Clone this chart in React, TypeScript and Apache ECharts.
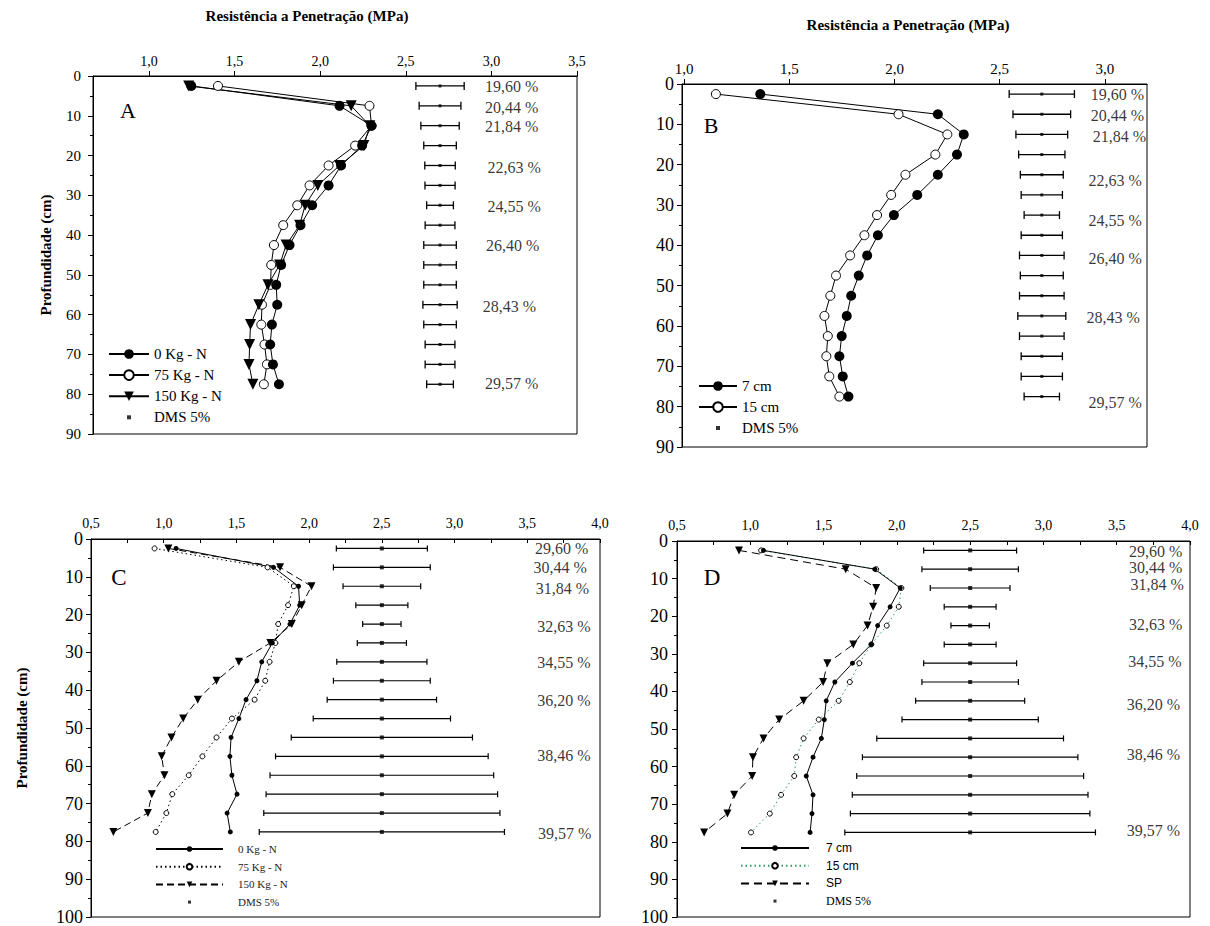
import { useEffect, useRef } from "react";
import * as echarts from "echarts";

const depths = [2.5, 7.5, 12.5, 17.5, 22.5, 27.5, 32.5, 37.5, 42.5, 47.5, 52.5, 57.5, 62.5, 67.5, 72.5, 77.5];
const ticksA = [1.0, 1.5, 2.0, 2.5, 3.0, 3.5];
const ticksB = [1.0, 1.5, 2.0, 2.5, 3.0];

// Panel A
const a0Kg = [1.247, 2.113, 2.3, 2.245, 2.122, 2.049, 1.953, 1.885, 1.821, 1.772, 1.743, 1.749, 1.718, 1.708, 1.724, 1.759];
const a75Kg = [1.403, 2.288, 2.3, 2.204, 2.049, 1.938, 1.866, 1.784, 1.73, 1.714, 1.71, 1.66, 1.656, 1.675, 1.689, 1.671];
const a150Kg = [1.232, 2.181, 2.29, 2.255, 2.113, 1.986, 1.912, 1.88, 1.801, 1.763, 1.695, 1.642, 1.593, 1.588, 1.584, 1.607];
const aDmsCenter = 2.7;
const aDmsHalf = [0.141, 0.122, 0.112, 0.095, 0.089, 0.088, 0.078, 0.087, 0.095, 0.095, 0.095, 0.1, 0.095, 0.087, 0.087, 0.078];
const abPctText = ["19,60 %", "20,44 %", "21,84 %", "22,63 %", "24,55 %", "26,40 %", "28,43 %", "29,57 %"];
const aPctX = [2.96, 2.96, 2.96, 2.975, 2.975, 2.965, 2.946, 2.96];
const aPctDepth = [2.6, 8.0, 12.7, 23.1, 32.7, 42.6, 58.0, 77.4];

// Panel B
const b7cm = [1.362, 2.206, 2.329, 2.297, 2.206, 2.108, 1.997, 1.921, 1.87, 1.83, 1.794, 1.773, 1.749, 1.738, 1.754, 1.781];
const b15cm = [1.151, 2.019, 2.251, 2.194, 2.052, 1.984, 1.917, 1.857, 1.789, 1.722, 1.695, 1.667, 1.683, 1.676, 1.69, 1.738];
const bDmsCenter = 2.7;
const bDmsHalf = [0.155, 0.137, 0.123, 0.11, 0.102, 0.098, 0.084, 0.098, 0.106, 0.102, 0.106, 0.114, 0.106, 0.098, 0.098, 0.084];
const bPctX = [2.93, 2.93, 2.94, 2.92, 2.92, 2.92, 2.91, 2.92];
const bPctDepth = [2.6, 7.9, 13.1, 24.0, 33.9, 43.3, 58.0, 78.9];

// Panel C
const c0Kg = [1.085, 1.755, 1.927, 1.935, 1.868, 1.747, 1.674, 1.641, 1.566, 1.517, 1.463, 1.455, 1.469, 1.504, 1.436, 1.458];
const c75Kg = [0.937, 1.714, 1.895, 1.855, 1.787, 1.768, 1.728, 1.698, 1.625, 1.469, 1.363, 1.266, 1.172, 1.059, 1.018, 0.945];
const c150Kg = [1.032, 1.8, 2.016, 1.949, 1.881, 1.733, 1.517, 1.363, 1.234, 1.134, 1.053, 0.986, 1.005, 0.918, 0.891, 0.654];
const cDmsCenter = 2.5;
const cDmsHalf = [0.313, 0.333, 0.267, 0.179, 0.132, 0.169, 0.31, 0.333, 0.376, 0.472, 0.623, 0.731, 0.769, 0.796, 0.812, 0.843];
const cdPctText = ["29,60 %", "30,44 %", "31,84 %", "32,63 %", "34,55 %", "36,20 %", "38,46 %", "39,57 %"];
const cPctX = [3.55, 3.54, 3.555, 3.565, 3.565, 3.565, 3.565, 3.57];
const cPctDepth = [2.5, 7.5, 13.0, 23.2, 32.8, 42.7, 57.3, 78.0];

// Panel D
const d7cm = [1.09, 1.85, 2.023, 1.954, 1.869, 1.826, 1.697, 1.577, 1.518, 1.505, 1.485, 1.428, 1.382, 1.428, 1.421, 1.408];
const d15cm = [1.074, 1.859, 2.031, 2.013, 1.931, 1.826, 1.744, 1.679, 1.603, 1.467, 1.364, 1.313, 1.3, 1.21, 1.133, 1.005];
const dSP = [0.923, 1.651, 1.859, 1.838, 1.8, 1.703, 1.526, 1.497, 1.364, 1.197, 1.09, 1.018, 1.013, 0.89, 0.844, 0.685];
const dDmsCenter = 2.5;
const dDmsHalf = [0.317, 0.329, 0.272, 0.177, 0.131, 0.177, 0.317, 0.329, 0.372, 0.465, 0.637, 0.735, 0.774, 0.804, 0.817, 0.855];
const dPctX = [3.58, 3.58, 3.59, 3.58, 3.575, 3.565, 3.565, 3.565];
const dPctDepth = [2.8, 7.1, 11.7, 22.2, 32.0, 43.6, 56.9, 76.9];

const SERIF = "Liberation Serif";
const SANS = "Liberation Sans";
const fmt1 = (v: number) => v.toFixed(1).replace(".", ",");
const stripTag = (n: string) => n.replace(/ \[[A-D]\]$/, "");

const pts = (vals: number[]) => vals.map((v, i) => [v, depths[i]]);

const filled = (s: number) => ({ symbol: "circle", symbolSize: s, itemStyle: { color: "#000" } });
const open = (s: number) => ({ symbol: "circle", symbolSize: s, itemStyle: { color: "#fff", borderColor: "#000", borderWidth: 1 } });
const tri = (s: number) => ({ symbol: "triangle", symbolRotate: 180, symbolSize: s, itemStyle: { color: "#000" } });

function lineS(name: string, vals: number[], idx: number, marker: any, lineStyle: any) {
  return {
    type: "line",
    name,
    xAxisIndex: idx,
    yAxisIndex: idx,
    data: pts(vals),
    showAllSymbol: true,
    ...marker,
    lineStyle: { color: "#000", width: 1, ...lineStyle },
    emphasis: { disabled: true },
    z: 3,
  };
}

function errS(center: number, halves: number[], idx: number, cap: number, lw: number) {
  return {
    type: "custom",
    xAxisIndex: idx,
    yAxisIndex: idx,
    silent: true,
    clip: false,
    z: 2,
    data: halves.map((h, i) => [center - h, center + h, depths[i]]),
    encode: { x: [0, 1], y: 2 },
    renderItem: (_p: any, api: any) => {
      const lo = api.coord([api.value(0), api.value(2)]);
      const hi = api.coord([api.value(1), api.value(2)]);
      const st = { stroke: "#000", lineWidth: lw };
      return {
        type: "group",
        children: [
          { type: "line", shape: { x1: lo[0], y1: lo[1], x2: hi[0], y2: hi[1] }, style: st },
          { type: "line", shape: { x1: lo[0], y1: lo[1] - cap, x2: lo[0], y2: lo[1] + cap }, style: st },
          { type: "line", shape: { x1: hi[0], y1: hi[1] - cap, x2: hi[0], y2: hi[1] + cap }, style: st },
        ],
      };
    },
  };
}

function dmsS(name: string, center: number, idx: number, size: number) {
  return {
    type: "scatter",
    name,
    xAxisIndex: idx,
    yAxisIndex: idx,
    symbol: "rect",
    symbolSize: size,
    itemStyle: { color: "#000" },
    data: depths.map((d) => [center, d]),
    z: 3,
    silent: true,
  };
}

function pctS(texts: string[], xs: number[], ds: number[], idx: number, fontSize: number) {
  return {
    type: "scatter",
    xAxisIndex: idx,
    yAxisIndex: idx,
    symbolSize: 1,
    itemStyle: { color: "rgba(0,0,0,0)" },
    silent: true,
    data: texts.map((t, i) => ({ value: [xs[i], ds[i]], name: t })),
    label: {
      show: true,
      position: "right",
      distance: 0,
      formatter: "{b}",
      fontFamily: SERIF,
      fontSize,
      color: "#000",
    },
  };
}

const axisLineBlack = { show: true, onZero: false, lineStyle: { color: "#000", width: 1 } };

function xAxisCfg(idx: number, min: number, max: number, custom: number[] | null, labelMargin: number, fontSize: number) {
  const base: any = {
    gridIndex: idx,
    type: "value",
    position: "top",
    min,
    max,
    axisLine: axisLineBlack,
    splitLine: { show: false },
    axisLabel: { formatter: fmt1, margin: labelMargin, fontFamily: SERIF, fontSize, color: "#000" },
  };
  if (custom) {
    base.axisTick = { show: true, customValues: custom, length: 5, lineStyle: { color: "#000" } };
    base.axisLabel.customValues = custom;
  } else {
    base.interval = 0.5;
    base.axisTick = { show: true, inside: true, length: 4, lineStyle: { color: "#000" } };
    base.minorTick = { show: true, splitNumber: 2, length: 4, lineStyle: { color: "#000" } };
  }
  return base;
}

function yAxisCfg(idx: number, max: number, name: string, nameGap: number, fontSize: number, margin: number) {
  return {
    gridIndex: idx,
    type: "value",
    inverse: true,
    min: 0,
    max,
    interval: 10,
    name,
    nameLocation: "middle",
    nameGap,
    nameRotate: 90,
    nameTextStyle: { fontFamily: SERIF, fontWeight: "bold", fontSize: 15, color: "#000" },
    axisLine: axisLineBlack,
    axisTick: { show: true, length: 5, lineStyle: { color: "#000" } },
    minorTick: { show: true, splitNumber: 2, length: 3, lineStyle: { color: "#000" } },
    splitLine: { show: false },
    axisLabel: { margin, fontFamily: SERIF, fontSize, color: "#000" },
  };
}

const dmsIconBig = "path://M0,0M12,12M4,4h4v4h-4z";
const dmsIconSmall = "path://M0,0M7,7M2,2h3v3h-3z";

export default function App() {
  const ref = useRef<HTMLDivElement>(null);
  useEffect(() => {
    if (!ref.current) return;
    const chart = echarts.init(ref.current, null, { renderer: "svg" });
    const gridBox = { show: true, borderColor: "#000", borderWidth: 1, backgroundColor: "transparent" };
    const option: any = {
      animation: false,
      backgroundColor: "#fff",
      textStyle: { fontFamily: SERIF },
      grid: [
        { left: 93, top: 76, width: 484, height: 358, ...gridBox },
        { left: 682, top: 84, width: 465, height: 363, ...gridBox },
        { left: 91, top: 539, width: 509, height: 379, ...gridBox },
        { left: 677, top: 541, width: 513, height: 376, ...gridBox },
      ],
      xAxis: [
        xAxisCfg(0, 0.673, 3.5, ticksA, 8, 14),
        xAxisCfg(1, 0.99, 3.2, ticksB, 8, 15),
        xAxisCfg(2, 0.5, 4.0, null, 9, 14),
        xAxisCfg(3, 0.5, 4.0, null, 9, 14),
      ],
      yAxis: [
        yAxisCfg(0, 90, "Profundidade (cm)", 40, 15, 12),
        yAxisCfg(1, 90, "", 0, 18, 8),
        yAxisCfg(2, 100, "Profundidade (cm)", 62, 18, 8),
        yAxisCfg(3, 100, "", 0, 18, 9),
      ],
      legend: [
        {
          orient: "vertical", left: 108, top: 346.5, padding: 0, itemWidth: 40, itemHeight: 12, itemGap: 6.1,
          selectedMode: false, formatter: stripTag,
          textStyle: { fontFamily: SERIF, fontSize: 15, color: "#000" },
          data: ["0 Kg - N [A]", "75 Kg - N [A]", "150 Kg - N [A]", { name: "DMS 5% [A]", icon: dmsIconBig }],
        },
        {
          orient: "vertical", left: 698, top: 378.5, padding: 0, itemWidth: 38, itemHeight: 12, itemGap: 6,
          selectedMode: false, formatter: stripTag,
          textStyle: { fontFamily: SERIF, fontSize: 15, color: "#000" },
          data: ["7 cm [B]", "15 cm [B]", { name: "DMS 5% [B]", icon: dmsIconBig }],
        },
        {
          orient: "vertical", left: 155, top: 843.5, padding: 0, itemWidth: 67, itemHeight: 7, itemGap: 6.7,
          selectedMode: false, formatter: stripTag,
          textStyle: { fontFamily: SERIF, fontSize: 11, color: "#222", padding: [0, 0, 0, 10] },
          data: ["0 Kg - N [C]", "75 Kg - N [C]", "150 Kg - N [C]", { name: "DMS 5% [C]", icon: dmsIconSmall }],
        },
        {
          orient: "vertical", left: 740, top: 842, padding: 0, itemWidth: 68, itemHeight: 7, itemGap: 5.7,
          selectedMode: false, formatter: stripTag,
          textStyle: { fontFamily: SANS, fontSize: 12, color: "#000", padding: [0, 0, 0, 12] },
          data: [
            "7 cm [D]", "15 cm [D]", "SP [D]",
            { name: "DMS 5% [D]", icon: dmsIconSmall, textStyle: { fontFamily: SERIF } },
          ],
        },
      ],
      graphic: [
        { type: "text", x: 307, y: 16, style: { text: "Resistência a Penetração (MPa)", fill: "#000", fontFamily: SERIF, fontWeight: "bold", fontSize: 15, align: "center", verticalAlign: "middle" } },
        { type: "text", x: 908, y: 25, style: { text: "Resistência a Penetração (MPa)", fill: "#000", fontFamily: SERIF, fontWeight: "bold", fontSize: 15, align: "center", verticalAlign: "middle" } },
        { type: "text", x: 128, y: 110, style: { text: "A", fill: "#000", fontFamily: SERIF, fontSize: 22, align: "center", verticalAlign: "middle" } },
        { type: "text", x: 711, y: 125, style: { text: "B", fill: "#000", fontFamily: SERIF, fontSize: 22, align: "center", verticalAlign: "middle" } },
        { type: "text", x: 119, y: 577, style: { text: "C", fill: "#000", fontFamily: SERIF, fontSize: 23, align: "center", verticalAlign: "middle" } },
        { type: "text", x: 712, y: 577, style: { text: "D", fill: "#000", fontFamily: SERIF, fontSize: 23, align: "center", verticalAlign: "middle" } },
      ],
      series: [
        // A
        errS(aDmsCenter, aDmsHalf, 0, 4, 1.3),
        dmsS("DMS 5% [A]", aDmsCenter, 0, 3),
        lineS("75 Kg - N [A]", a75Kg, 0, open(9), {}),
        lineS("150 Kg - N [A]", a150Kg, 0, tri(11), {}),
        lineS("0 Kg - N [A]", a0Kg, 0, filled(10), {}),
        pctS(abPctText, aPctX, aPctDepth, 0, 16),
        // B
        errS(bDmsCenter, bDmsHalf, 1, 4, 1.3),
        dmsS("DMS 5% [B]", bDmsCenter, 1, 3),
        lineS("15 cm [B]", b15cm, 1, open(9), {}),
        lineS("7 cm [B]", b7cm, 1, filled(10), {}),
        pctS(abPctText, bPctX, bPctDepth, 1, 16),
        // C
        errS(cDmsCenter, cDmsHalf, 2, 3, 1.2),
        dmsS("DMS 5% [C]", cDmsCenter, 2, 4),
        lineS("75 Kg - N [C]", c75Kg, 2, open(5), { type: [1.5, 3] }),
        lineS("150 Kg - N [C]", c150Kg, 2, tri(8), { type: [7, 4] }),
        lineS("0 Kg - N [C]", c0Kg, 2, filled(5), {}),
        pctS(cdPctText, cPctX, cPctDepth, 2, 16),
        // D
        errS(dDmsCenter, dDmsHalf, 3, 3, 1.2),
        dmsS("DMS 5% [D]", dDmsCenter, 3, 4),
        lineS("15 cm [D]", d15cm, 3, open(5), { type: [1.5, 3], color: "#2e9a63" }),
        lineS("SP [D]", dSP, 3, tri(8), { type: [8, 5] }),
        lineS("7 cm [D]", d7cm, 3, filled(5), {}),
        pctS(cdPctText, dPctX, dPctDepth, 3, 16),
      ],
    };
    chart.setOption(option);
    return () => chart.dispose();
  }, []);
  return (
    <div
      ref={ref}
      style={{ position: "absolute", left: 0, top: 0, width: 1210, height: 926, background: "#fff" }}
    />
  );
}
